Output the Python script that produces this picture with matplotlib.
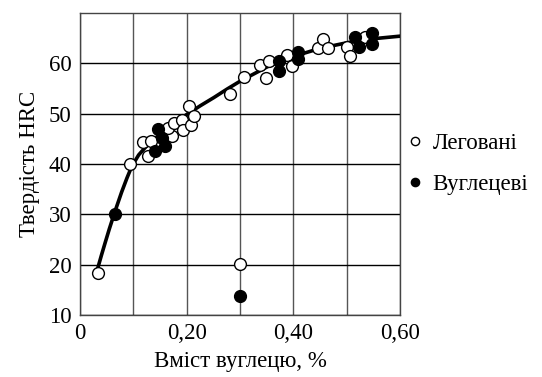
import matplotlib
matplotlib.use('Agg')
import matplotlib.pyplot as plt
from matplotlib.ticker import MultipleLocator, FuncFormatter

# Леговані сталі (відкриті кружки)
leg_x = [0.033, 0.093, 0.118, 0.133, 0.128, 0.172, 0.165, 0.177, 0.191, 0.194,
         0.209, 0.204, 0.213, 0.281, 0.307, 0.337, 0.354, 0.348, 0.389, 0.398,
         0.447, 0.455, 0.465, 0.500, 0.506, 0.534, 0.300]
leg_y = [18.4, 40.0, 44.3, 44.5, 41.6, 45.6, 47.1, 48.1, 48.7, 46.8,
         47.8, 51.5, 49.5, 54.0, 57.2, 59.7, 60.4, 57.1, 61.6, 59.5,
         63.0, 64.8, 63.0, 63.2, 61.4, 65.2, 20.1]

# Вуглецеві сталі (зафарбовані кружки)
carb_x = [0.066, 0.146, 0.141, 0.159, 0.154, 0.373, 0.373, 0.409, 0.409,
          0.516, 0.524, 0.547, 0.547, 0.300]
carb_y = [30.0, 46.9, 42.6, 43.6, 45.2, 60.4, 58.5, 62.3, 60.8,
          65.2, 63.3, 66.1, 63.9, 13.7]

# апроксимуюча крива
curve_x = [0.033, 0.040, 0.047, 0.055, 0.066, 0.078, 0.088, 0.097, 0.110, 0.125,
           0.150, 0.175, 0.201, 0.226, 0.251, 0.276, 0.301, 0.351, 0.401, 0.451,
           0.501, 0.551, 0.600]
curve_y = [19.2, 21.8, 24.3, 27.1, 30.7, 34.4, 37.2, 39.5, 41.8, 43.6,
           45.9, 48.0, 49.9, 51.6, 53.2, 54.9, 56.5, 59.3, 61.4, 63.0,
           64.1, 64.9, 65.4]

plt.rcParams['font.family'] = ['Liberation Serif', 'DejaVu Serif']

fig = plt.figure(figsize=(5.42, 3.77), dpi=100)
ax = fig.add_axes([0.1476, 0.1645, 0.5904, 0.801])

ax.plot(curve_x, curve_y, color='black', lw=2.6, zorder=3,
        solid_joinstyle='round', solid_capstyle='round')
ax.plot(leg_x, leg_y, 'o', ms=8.5, mfc='white', mec='black', mew=1.0,
        label='Леговані', zorder=4)
ax.plot(carb_x, carb_y, 'o', ms=8.5, mfc='black', mec='black',
        label='Вуглецеві', zorder=5)

ax.set_xlim(0, 0.6)
ax.set_ylim(10, 70)
ax.xaxis.set_major_locator(MultipleLocator(0.2))
ax.xaxis.set_minor_locator(MultipleLocator(0.1))
ax.set_yticks([10, 20, 30, 40, 50, 60])
ax.xaxis.set_major_formatter(FuncFormatter(
    lambda v, p: '0' if abs(v) < 1e-9 else f'{v:.2f}'.replace('.', ',')))

ax.grid(True, which='both', axis='x', color='#555555', lw=1.0)
ax.grid(True, axis='y', color='black', lw=1.0)
ax.tick_params(which='both', length=0, labelsize=16.5, pad=6)
for s in ax.spines.values():
    s.set_color('#444444')
    s.set_linewidth(1.0)

ax.set_xlabel('Вміст вуглецю, %', fontsize=16.5, labelpad=5)
ax.set_ylabel('Твердість HRC', fontsize=16.5, labelpad=6)

ax.legend(loc='center left', bbox_to_anchor=(0.955, 0.50), frameon=False,
          fontsize=16.5, markerscale=0.7, handlelength=0.8, handletextpad=0.35,
          labelspacing=0.9)

fig.savefig('out.png', dpi=100)
